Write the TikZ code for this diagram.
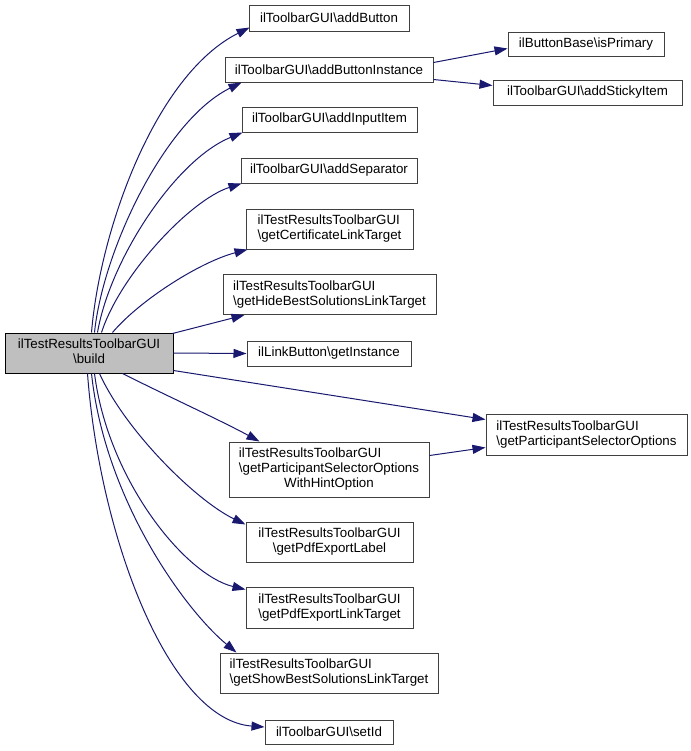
\documentclass[tikz,border=0pt]{standalone}
\usepackage{fontspec}
\setmainfont{Liberation Sans}
\usetikzlibrary{arrows.meta,calc}
\definecolor{edgec}{HTML}{191970}
\definecolor{boxc}{HTML}{404040}
\definecolor{rootf}{HTML}{BFBFBF}
\newcommand{\bs}{\textbackslash}
\newcommand{\twol}[2]{\begin{tabular}{@{}l@{}}#1\\\multicolumn{1}{@{}c@{}}{#2}\end{tabular}}
\newcommand{\threel}[3]{\begin{tabular}{@{}l@{}}#1\\#2\\\multicolumn{1}{@{}c@{}}{#3}\end{tabular}}
\begin{document}
\begin{tikzpicture}[x=0.75pt,y=-0.75pt,
  font=\fontsize{10}{11.25}\selectfont,
  fn/.style={draw=boxc, line width=0.75pt, fill=white, inner sep=0pt, align=center, text=black},
  root/.style={fn, draw=black, fill=rootf},
  edge/.style={draw=edgec, line width=0.75pt, -{Triangle[length=9.75pt,width=6.75pt]}}]
\useasboundingbox (0,0) rectangle (691,751);
\fill[white] (0,0) rectangle (691,751);

% nodes
\node[root, minimum width=126pt, minimum height=30pt] (build) at (89,353) {\twol{ilTestResultsToolbarGUI}{\bs build}};
\node[fn, minimum width=120pt, minimum height=19.5pt] (addButton) at (329,18) {ilToolbarGUI\bs addButton};
\node[fn, minimum width=156pt, minimum height=18.75pt] (addButtonInstance) at (329,69.5) {ilToolbarGUI\bs addButtonInstance};
\node[fn, minimum width=131.25pt, minimum height=18.75pt] (addInputItem) at (329.5,119.5) {ilToolbarGUI\bs addInputItem};
\node[fn, minimum width=132pt, minimum height=18.75pt] (addSeparator) at (329,170.5) {ilToolbarGUI\bs addSeparator};
\node[fn, minimum width=117pt, minimum height=18pt] (isPrimary) at (586,44) {ilButtonBase\bs isPrimary};
\node[fn, minimum width=141.75pt, minimum height=18.75pt] (addStickyItem) at (587.5,92.5) {ilToolbarGUI\bs addStickyItem};
\node[fn, minimum width=125.25pt, minimum height=30pt] (getCert) at (329.5,229) {\twol{ilTestResultsToolbarGUI}{\bs getCertificateLinkTarget}};
\node[fn, minimum width=159.75pt, minimum height=30pt] (getHide) at (329.5,294.5) {\twol{ilTestResultsToolbarGUI}{\bs getHideBestSolutionsLinkTarget}};
\node[fn, minimum width=123pt, minimum height=18.75pt] (getInstance) at (329,353.5) {ilLinkButton\bs getInstance};
\node[fn, minimum width=150.75pt, minimum height=30.75pt] (getPSO) at (586.5,434.5) {\twol{ilTestResultsToolbarGUI}{\bs getParticipantSelectorOptions}};
\node[fn, minimum width=150pt, minimum height=41.25pt] (withHint) at (329,469.5) {\threel{ilTestResultsToolbarGUI}{\bs getParticipantSelectorOptions}{WithHintOption}};
\node[fn, minimum width=125.25pt, minimum height=30pt] (pdfLabel) at (329.5,542) {\twol{ilTestResultsToolbarGUI}{\bs getPdfExportLabel}};
\node[fn, minimum width=125.25pt, minimum height=30.75pt] (pdfLink) at (329.5,607.5) {\twol{ilTestResultsToolbarGUI}{\bs getPdfExportLinkTarget}};
\node[fn, minimum width=163.5pt, minimum height=30pt] (showBest) at (329,673) {\twol{ilTestResultsToolbarGUI}{\bs getShowBestSolutionsLinkTarget}};
\node[fn, minimum width=96pt, minimum height=18pt] (setId) at (329,732) {ilToolbarGUI\bs setId};

% edges from build (upper)
\draw[edge] ($(build.north west)+(87,0)$) .. controls (100,230) and (155,75) .. ($(addButton.south west)+(1,-4)$);
\draw[edge] ($(build.north west)+(90,0)$) .. controls (103,250) and (165,120) .. ($(addButtonInstance.south west)+(17,0)$);
\draw[edge] ($(build.north west)+(93,0)$) .. controls (110,260) and (175,160) .. ($(addInputItem.south west)+(1,0)$);
\draw[edge] ($(build.north west)+(97,0)$) .. controls (120,275) and (190,200) .. ($(addSeparator.south west)+(1,0)$);
\draw[edge] ($(build.north west)+(108,0)$) .. controls (140,300) and (200,262) .. ($(getCert.south west)+(2,0)$);
\draw[edge] ($(build.north east)+(-1,1)$) -- ($(getHide.south west)+(22,0)$);
\draw[edge] (build.east) -- (getInstance.west);
% edges from build (lower)
\draw[edge] ($(build.south east)+(0,-3)$) -- ($(getPSO.north west)+(0,6)$);
\draw[edge] ($(build.south west)+(118,0)$) .. controls (165,395) and (220,420) .. ($(withHint.north west)+(31,0)$);
\draw[edge] ($(build.south west)+(95,0)$) .. controls (125,430) and (195,500) .. ($(pdfLabel.north west)+(0,3)$);
\draw[edge] ($(build.south west)+(90,0)$) .. controls (108,480) and (185,575) .. ($(pdfLink.north west)+(0,3)$);
\draw[edge] ($(build.south west)+(87,0)$) .. controls (105,500) and (185,610) .. ($(showBest.north west)+(17,0)$);
\draw[edge] ($(build.south west)+(83,0)$) .. controls (100,540) and (170,720) .. ($(setId.west)+(0,-5)$);
% other edges
\draw[edge] ($(addButtonInstance.north east)+(0,6)$) -- ($(isPrimary.south west)+(0,-8)$);
\draw[edge] ($(addButtonInstance.south east)+(0,-3)$) -- ($(addStickyItem.west)+(0,-7)$);
\draw[edge] ($(withHint.north east)+(0,14)$) -- ($(getPSO.south west)+(0,-8)$);
\end{tikzpicture}
\end{document}
